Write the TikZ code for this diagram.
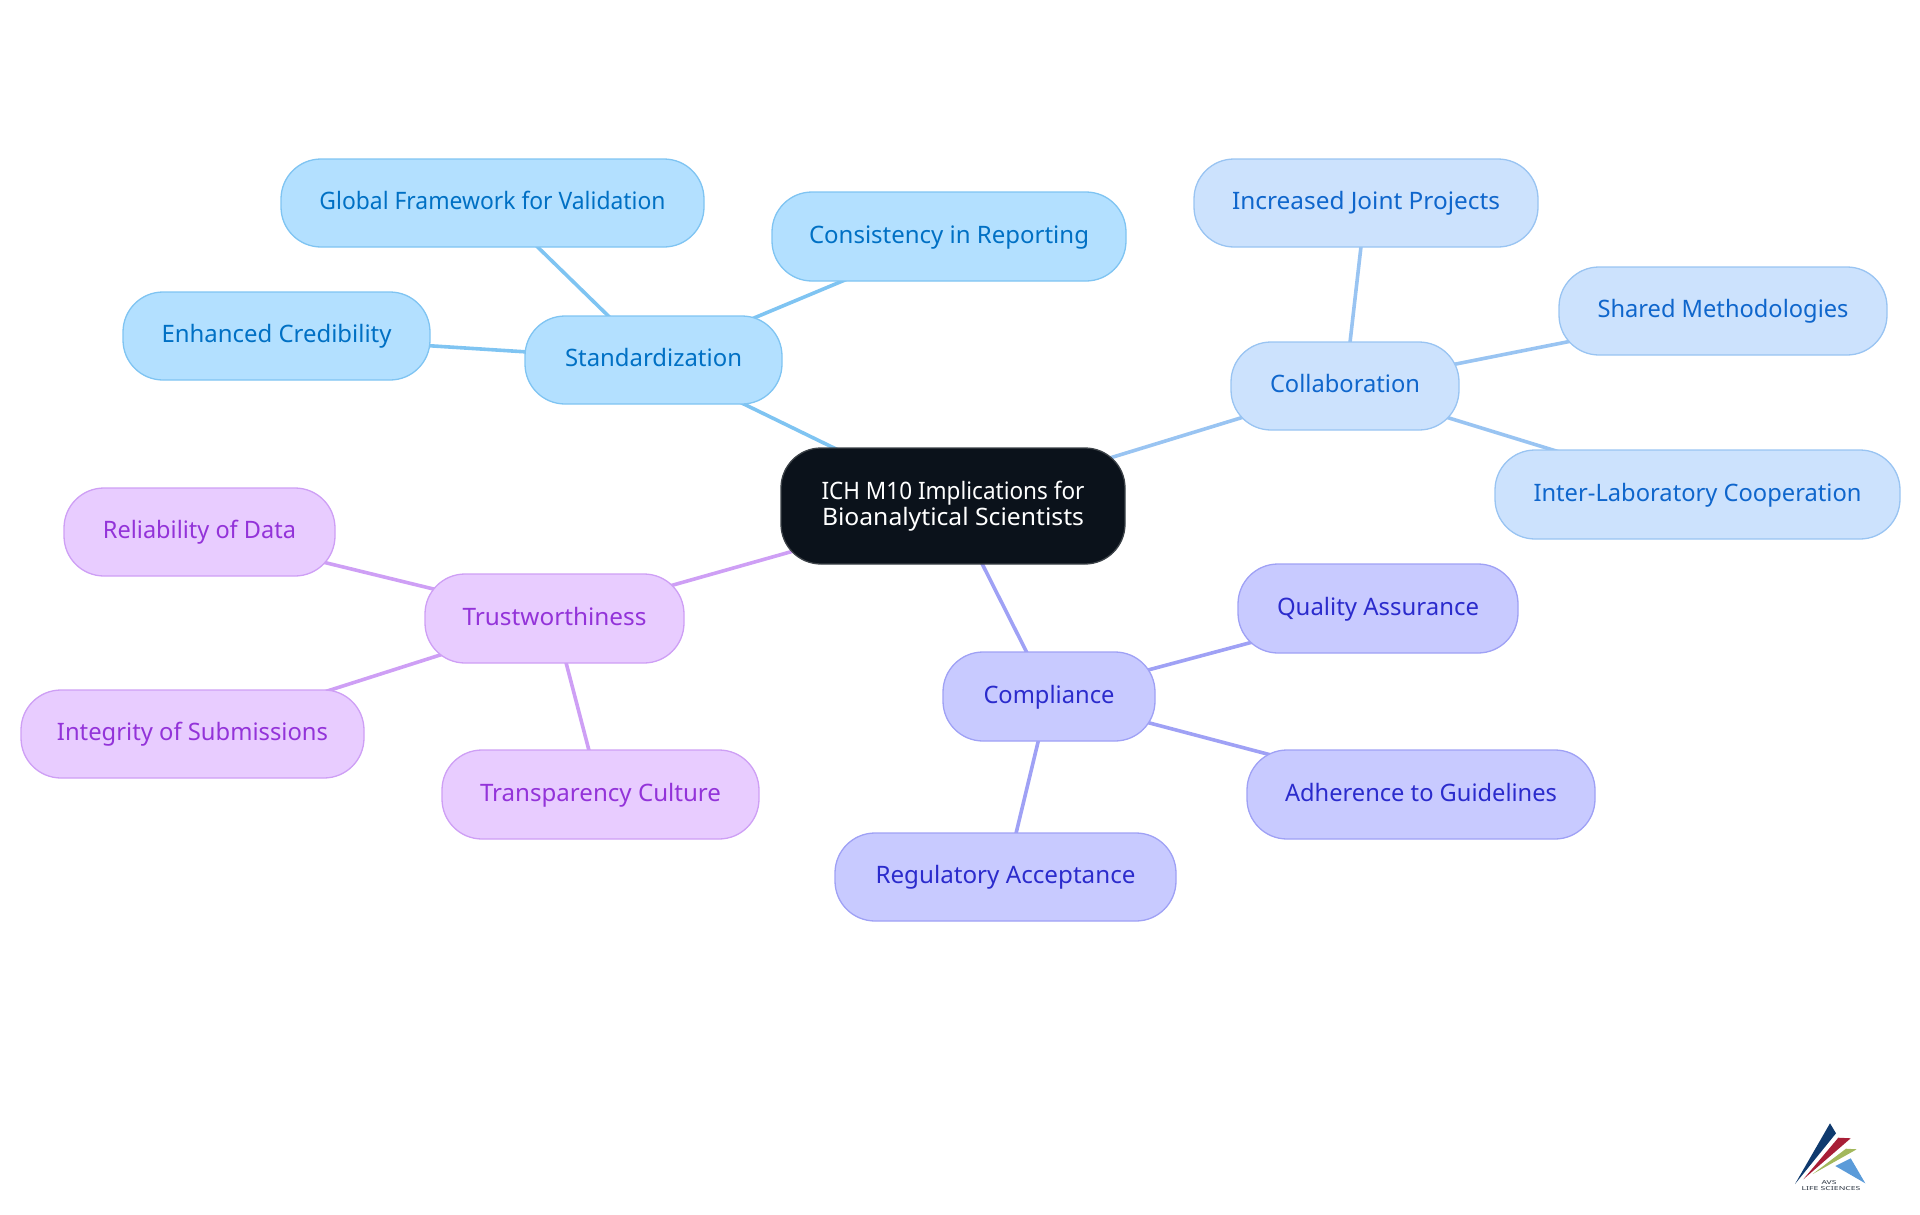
\documentclass[tikz,border=0pt]{standalone}
\usepackage{fontspec}
\usepackage{graphicx}
\setmainfont{Noto Sans}
\usetikzlibrary{backgrounds}
\definecolor{rootfill}{HTML}{0B121B}\definecolor{rootline}{HTML}{3C4248}
\definecolor{sfill}{HTML}{B3E0FF}\definecolor{sline}{HTML}{7FC4F2}\definecolor{stext}{HTML}{0070C4}
\definecolor{cfill}{HTML}{CCE2FD}\definecolor{cline}{HTML}{99C4F2}\definecolor{ctext}{HTML}{0F66CC}
\definecolor{pfill}{HTML}{C8CAFF}\definecolor{pline}{HTML}{9FA1F5}\definecolor{ptext}{HTML}{2B2BCC}
\definecolor{tfill}{HTML}{E8CCFF}\definecolor{tline}{HTML}{CE9FF5}\definecolor{ttext}{HTML}{9333D9}
\definecolor{lgnavy}{HTML}{0F3A6E}\definecolor{lgred}{HTML}{A81E36}\definecolor{lggreen}{HTML}{A3B85C}\definecolor{lgblue}{HTML}{5B9BD9}\definecolor{lgtext}{HTML}{2A3340}
\tikzset{
  mapnode/.style={rounded corners=40pt,line width=1.3pt,inner sep=0pt,font=\fontsize{24}{26}\selectfont,text height=18.5pt,text depth=5.5pt},
  sbox/.style={mapnode,draw=sline,fill=sfill,text=stext},
  cbox/.style={mapnode,draw=cline,fill=cfill,text=ctext},
  pbox/.style={mapnode,draw=pline,fill=pfill,text=ptext},
  tbox/.style={mapnode,draw=tline,fill=tfill,text=ttext},
  rootbox/.style={rounded corners=40pt,line width=1.3pt,inner sep=0pt,draw=rootline,fill=rootfill,text=white,font=\fontsize{24}{26}\selectfont,align=center},
  logotext/.style={inner sep=0pt,text=lgtext,font=\fontsize{5.5}{6}\selectfont\bfseries},
  sedge/.style={line width=3.6pt,draw=sline},
  cedge/.style={line width=3.6pt,draw=cline},
  pedge/.style={line width=3.6pt,draw=pline},
  tedge/.style={line width=3.6pt,draw=tline},
}
\newcommand{\tw}[2]{\resizebox{#1pt}{\height}{#2}}
\newcommand{\mapbox}[8]{\node[#1,minimum width=#5pt-#4pt,minimum height=#7pt-#6pt] (#2) at ({(#4+#5)/2},{(#6+#7)/2}) {\tw{#8}{#3}};}
\begin{document}
\begin{tikzpicture}[x=1pt,y=-1pt]
\useasboundingbox (0,0) rectangle (1920,1215);
\node[rootbox,minimum width=344pt,minimum height=116pt] (root) at (953,506) {\tw{263}{ICH M10 Implications for}\\\tw{262}{Bioanalytical Scientists}};
\mapbox{sbox}{std}{Standardization}{525}{782}{316}{404}{177}
\mapbox{sbox}{glob}{Global Framework for Validation}{281}{704}{159}{247}{346}
\mapbox{sbox}{cons}{Consistency in Reporting}{772}{1126}{192}{281}{280}
\mapbox{sbox}{cred}{Enhanced Credibility}{123}{430}{292}{380}{230}
\mapbox{cbox}{coll}{Collaboration}{1231}{1459}{342}{430}{150}
\mapbox{cbox}{join}{Increased Joint Projects}{1194}{1538}{159}{247}{268}
\mapbox{cbox}{shar}{Shared Methodologies}{1559}{1887}{267}{355}{251}
\mapbox{cbox}{inter}{Inter-Laboratory Cooperation}{1495}{1900}{450}{539}{328}
\mapbox{tbox}{trust}{Trustworthiness}{425}{684}{574}{663}{184}
\mapbox{tbox}{reli}{Reliability of Data}{64}{335}{488}{576}{193}
\mapbox{tbox}{integ}{Integrity of Submissions}{21}{364}{690}{778}{271}
\mapbox{tbox}{transp}{Transparency Culture}{442}{759}{750}{839}{241}
\mapbox{pbox}{comp}{Compliance}{943}{1155}{652}{741}{131}
\mapbox{pbox}{qual}{Quality Assurance}{1238}{1518}{564}{653}{202}
\mapbox{pbox}{adh}{Adherence to Guidelines}{1247}{1595}{750}{839}{272}
\mapbox{pbox}{reg}{Regulatory Acceptance}{835}{1176}{833}{921}{260}
\begin{scope}[on background layer]
\draw[sedge] (root.center) -- (std.center);
\draw[sedge] (std.center) -- (glob.center);
\draw[sedge] (std.center) -- (cons.center);
\draw[sedge] (std.center) -- (cred.center);
\draw[cedge] (root.center) -- (coll.center);
\draw[cedge] (coll.center) -- (join.center);
\draw[cedge] (coll.center) -- (shar.center);
\draw[cedge] (coll.center) -- (inter.center);
\draw[tedge] (root.center) -- (trust.center);
\draw[tedge] (trust.center) -- (reli.center);
\draw[tedge] (trust.center) -- (integ.center);
\draw[tedge] (trust.center) -- (transp.center);
\draw[pedge] (root.center) -- (comp.center);
\draw[pedge] (comp.center) -- (qual.center);
\draw[pedge] (comp.center) -- (adh.center);
\draw[pedge] (comp.center) -- (reg.center);
\end{scope}
% logo
\fill[lgnavy] (1795,1184) -- (1830,1123.3) -- (1836,1133.3) -- cycle;
\fill[lgred] (1803.3,1179.3) -- (1838.3,1137.7) -- (1850.7,1138.3) -- cycle;
\fill[lggreen] (1812.7,1174) -- (1846,1148.7) -- (1856.7,1149.3) -- cycle;
\fill[lgblue] (1835.3,1166) -- (1850.7,1158.3) -- (1865.3,1183.3) -- cycle;
\node[logotext] (avs) at (1829,1182.5) {\tw{15}{AVS}};
\node[logotext] (life) at (1831,1189) {\tw{59}{LIFE SCIENCES}};
\end{tikzpicture}
\end{document}
